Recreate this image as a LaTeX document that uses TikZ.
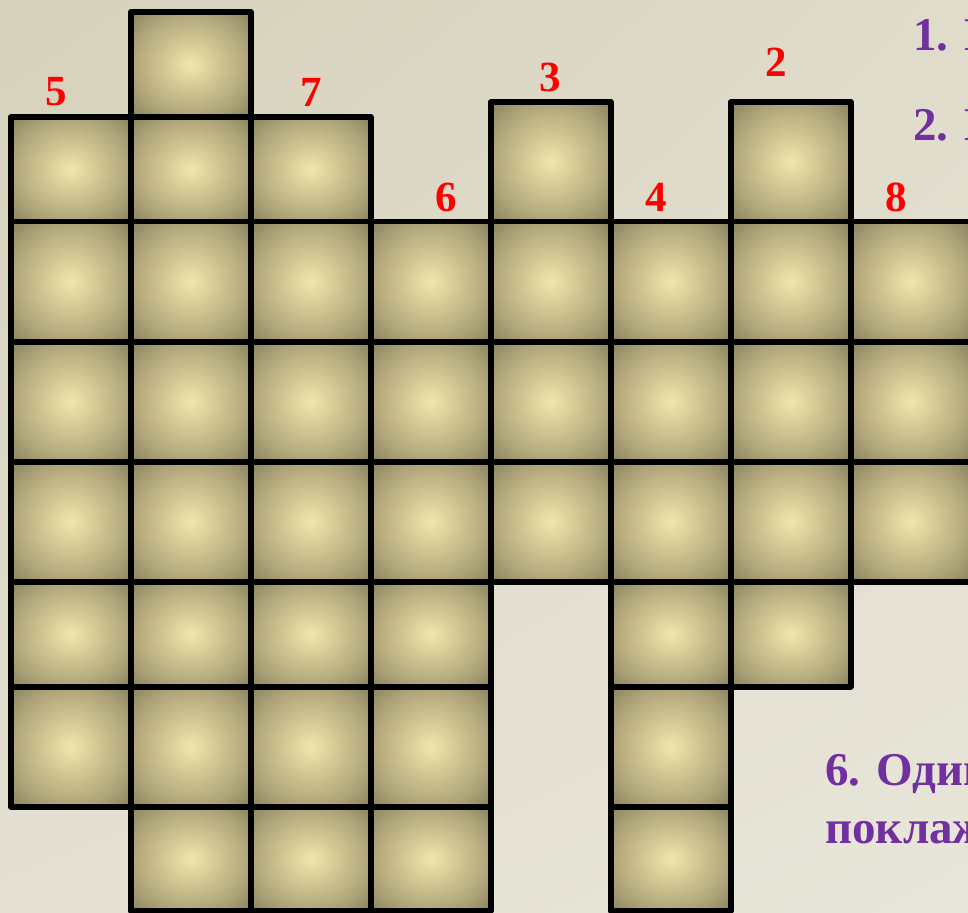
\documentclass[tikz,border=0pt]{standalone}
\usepackage{fontspec}
\setmainfont{Liberation Serif}
\usetikzlibrary{shadings}

\definecolor{bgtl}{HTML}{D6D1BB}
\definecolor{bgtr}{HTML}{E0DCCB}
\definecolor{bgbl}{HTML}{E3E0D2}
\definecolor{bgbr}{HTML}{E8E5DA}
\definecolor{cellin}{HTML}{F1E6AA}
\definecolor{cellmid}{HTML}{ADA378}
\definecolor{cellout}{HTML}{898260}
\definecolor{hintpurple}{HTML}{7030A0}

\pgfdeclareradialshading{cellglow}{\pgfpoint{0bp}{0bp}}{color(0bp)=(cellin); color(25bp)=(cellmid); color(35.4bp)=(cellout); color(50bp)=(cellout)}

\tikzset{
  cellfill/.style={shading=cellglow},
  cellline/.style={draw=black, line width=2.8pt, line join=round},
  clue/.style={text=red, font=\bfseries\fontsize{21.5}{26}\selectfont, inner sep=0pt},
  hint/.style={text=hintpurple, font=\bfseries\fontsize{23.5}{28}\selectfont, anchor=base west, inner sep=0pt}
}

% column left edge / list of bottom/top of its cells
\def\gridcells{
  10.7/{105.3/225.3, 225.3/330.3, 330.3/450.3, 450.3/570.3, 570.3/690.3, 690.3/795},
  130.7/{1/105.3, 105.3/225.3, 225.3/330.3, 330.3/450.3, 450.3/570.3, 570.3/690.3, 690.3/795, 795/900},
  250.7/{1/105.3, 105.3/225.3, 225.3/330.3, 330.3/450.3, 450.3/570.3, 570.3/690.3, 690.3/795},
  370.7/{1/105.3, 105.3/225.3, 225.3/330.3, 330.3/450.3, 450.3/570.3, 570.3/690.3},
  490.7/{330.3/450.3, 450.3/570.3, 570.3/690.3, 690.3/810},
  610.7/{1/105.3, 105.3/225.3, 225.3/330.3, 330.3/450.3, 450.3/570.3, 570.3/690.3},
  730.7/{225.3/330.3, 330.3/450.3, 450.3/570.3, 570.3/690.3, 690.3/810},
  850.7/{330.3/450.3, 450.3/570.3, 570.3/690.3}}

\begin{document}
\begin{tikzpicture}[x=0.5pt,y=0.5pt]
  % 1. Background
  \useasboundingbox (0,0) rectangle (968,912);
  \clip (0,0) rectangle (968,912);
  \shade[upper left=bgtl, upper right=bgtr, lower left=bgbl, lower right=bgbr] (0,0) rectangle (968,912);

  % 2. Crossword cells (fill first, then the lines)
  \foreach \cx/\rows in \gridcells
    \foreach \yb/\yt in \rows
      \shade[cellfill] (\cx,\yb) rectangle (\cx+120,\yt);
  \foreach \cx/\rows in \gridcells
    \foreach \yb/\yt in \rows
      \draw[cellline] (\cx,\yb) rectangle (\cx+120,\yt);

  % 3. Clue numbers
  \node[clue] (n5) at (56,820) {5};
  \node[clue] (n7) at (311,820) {7};
  \node[clue] (n3) at (550,835) {3};
  \node[clue] (n2) at (776,850) {2};
  \node[clue] (n6) at (446,715) {6};
  \node[clue] (n4) at (656,715) {4};
  \node[clue] (n8) at (896,715) {8};

  % 4. Questions (cut by the right edge)
  \node[hint] (q1) at (913,861) {1. Н};
  \node[hint] (q2) at (913,771) {2. Н};
  \node[hint] (q6) at (825,127) {6. Один};
  \node[hint] (q6b) at (825,68.7) {поклаж};
\end{tikzpicture}
\end{document}
